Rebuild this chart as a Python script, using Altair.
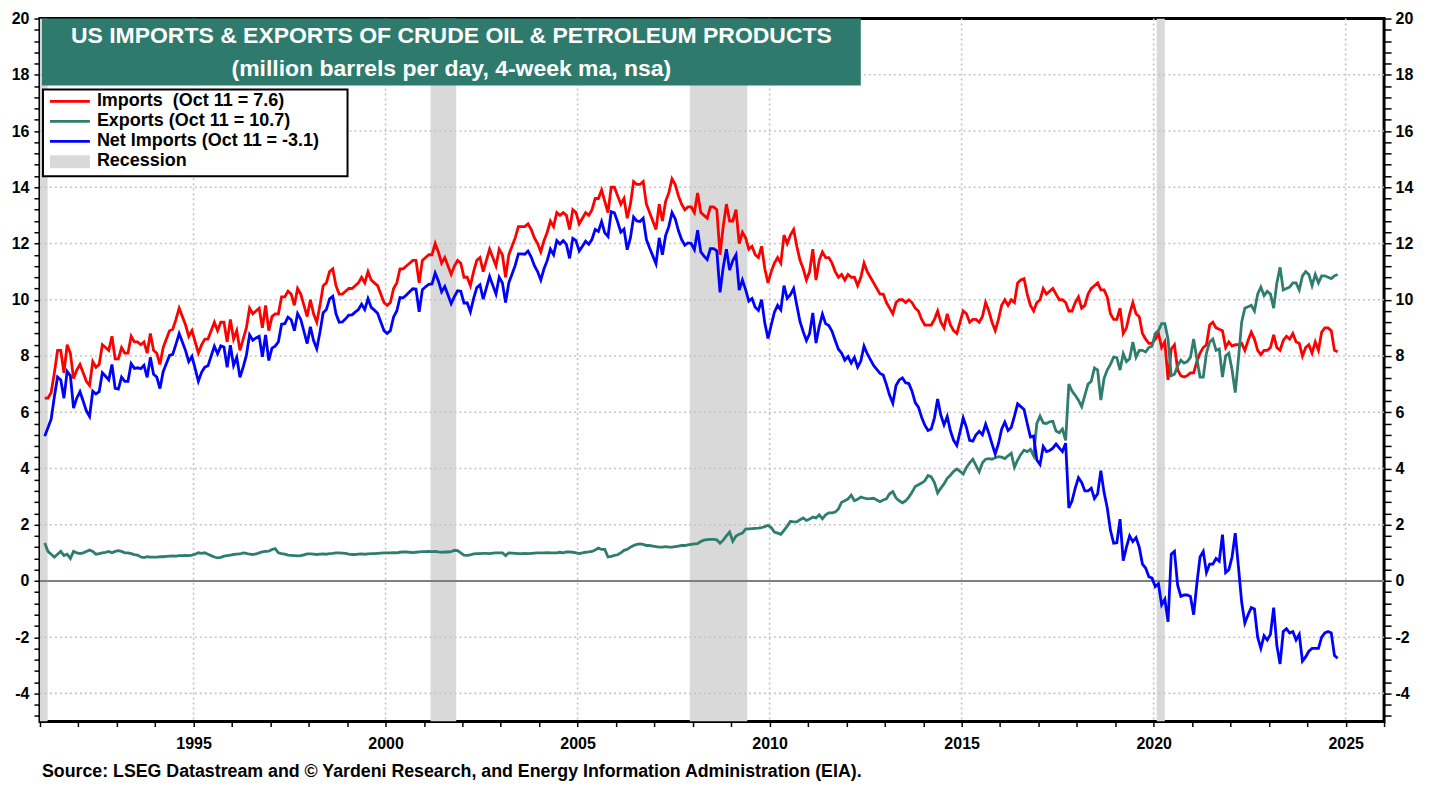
import altair as alt
import pandas as pd

# ---------------------------------------------------------------------------
# Data: million barrels per day, 4-week ma, nsa (monthly readings)
# first row of the 1990s lists starts in Feb 1991; last row of 2020s ends Oct 2024
# ---------------------------------------------------------------------------
FIRST_YEAR = 1991

imports_1990s = [
    [6.5, 6.5, 6.7, 7.4, 8.2, 8.2, 7.4, 8.4, 8.1, 7.2, 7.5],                 # 1991 (Feb-Dec)
    [7.7, 7.4, 7.1, 6.95, 7.8, 7.6, 7.7, 8.4, 8.3, 8.2, 8.7, 7.9],           # 1992
    [7.9, 8.3, 8.1, 8.1, 8.7, 8.5, 8.5, 8.4, 8.5, 8.1, 8.8, 8.2],            # 1993
    [8.1, 7.7, 8.3, 8.6, 8.9, 8.95, 9.3, 9.7, 9.4, 9.1, 8.7, 8.9],           # 1994
    [8.5, 8.1, 8.4, 8.6, 8.6, 8.9, 9.2, 8.9, 9.2, 9.2, 8.5, 9.3],            # 1995
    [8.6, 8.9, 8.2, 8.6, 9.0, 9.7, 9.5, 9.6, 9.7, 9.0, 9.8, 8.9],            # 1996
    [9.4, 9.5, 9.5, 10.1, 10.1, 10.3, 10.2, 9.8, 10.4, 10.2, 9.8, 9.4],      # 1997
    [10.0, 9.5, 9.2, 9.8, 10.5, 10.6, 11.0, 11.1, 10.5, 10.2, 10.2, 10.3],   # 1998
    [10.4, 10.4, 10.5, 10.6, 10.8, 10.6, 11.0, 10.7, 10.6, 10.5, 10.2, 9.9], # 1999
]
imports_2000s = [
    [9.8, 9.9, 10.4, 10.6, 11.1, 11.1, 11.2, 11.3, 11.4, 11.4, 10.6, 11.4],
    [11.5, 11.6, 11.6, 12.0, 11.7, 11.3, 11.5, 11.2, 10.9, 11.2, 11.4, 11.3],
    [10.8, 10.8, 10.5, 11.0, 11.4, 11.5, 11.0, 11.4, 11.8, 11.5, 11.2, 11.8],
    [11.6, 10.8, 11.6, 11.9, 12.2, 12.6, 12.6, 12.6, 12.7, 12.5, 12.2, 12.0],
    [11.7, 12.1, 12.4, 12.8, 12.6, 13.1, 13.0, 13.1, 13.0, 12.5, 13.2, 13.1],
    [12.7, 12.9, 13.1, 13.0, 13.2, 13.6, 13.6, 13.9, 13.5, 13.1, 14.0, 14.0],
    [13.7, 13.4, 13.6, 12.9, 13.4, 14.2, 14.1, 14.1, 14.2, 13.4, 13.1, 12.8],
    [12.5, 13.4, 12.8, 13.5, 13.8, 14.3, 14.1, 13.7, 13.4, 13.2, 13.3, 13.3],
    [13.1, 13.8, 13.1, 13.0, 12.9, 13.3, 13.3, 13.2, 11.6, 12.6, 13.4, 12.8],
    [12.8, 13.2, 12.0, 12.4, 12.2, 11.8, 11.9, 11.6, 11.5, 11.9, 11.1, 10.6],
]
imports_2010s = [
    [11.0, 11.3, 11.5, 11.3, 12.3, 12.0, 12.3, 12.5, 11.9, 11.4, 11.1, 10.7],
    [11.0, 11.8, 10.7, 11.4, 11.7, 11.5, 11.5, 11.3, 11.0, 10.8, 10.9, 10.7],
    [10.9, 10.8, 10.8, 10.5, 10.8, 11.3, 11.0, 10.8, 10.6, 10.4, 10.2, 10.2],
    [9.9, 9.7, 9.5, 9.9, 10.0, 10.0, 9.9, 10.0, 9.9, 9.7, 9.6, 9.3],
    [9.1, 9.1, 9.1, 9.3, 9.6, 9.2, 9.0, 9.5, 9.1, 8.9, 8.8, 9.2],
    [9.6, 9.5, 9.2, 9.3, 9.3, 9.2, 9.4, 9.9, 9.6, 9.2, 8.9, 9.3],
    [9.8, 10.0, 9.8, 10.0, 9.9, 10.6, 10.7, 10.75, 10.2, 9.8, 9.6, 9.9],
    [10.0, 10.4, 10.2, 10.3, 10.4, 10.2, 10.0, 10.0, 9.9, 9.6, 9.6, 9.9],
    [10.1, 9.7, 9.8, 10.2, 10.4, 10.5, 10.6, 10.35, 10.35, 10.1, 9.5, 9.3],
    [9.3, 9.7, 8.8, 9.0, 9.5, 9.9, 9.5, 9.4, 8.8, 8.6, 8.45, 8.45],
]
imports_2020s = [
    [8.6, 8.8, 8.3, 8.5, 7.15, 8.25, 8.4, 7.5, 7.3, 7.25, 7.3, 7.4],
    [7.4, 7.8, 8.1, 8.3, 8.4, 9.1, 9.2, 9.0, 8.95, 8.9, 8.3, 8.5],
    [8.35, 8.4, 8.4, 8.45, 8.2, 8.55, 8.85, 8.6, 8.2, 8.05, 8.2, 8.2],
    [8.3, 8.75, 8.3, 8.2, 8.55, 8.7, 8.6, 8.8, 8.5, 8.45, 8.0, 8.3],
    [8.4, 8.1, 8.5, 8.2, 8.85, 9.0, 9.0, 8.9, 8.2, 8.15],                    # 2024 (Jan-Oct)
]

exports_1990s = [
    [1.35, 1.05, 0.95, 0.85, 0.95, 1.05, 0.9, 0.95, 0.8, 1.05, 1.0],
    [0.97, 1.0, 1.05, 1.1, 1.05, 0.95, 0.97, 1.0, 1.02, 1.05, 1.0, 1.05],
    [1.08, 1.05, 1.0, 1.0, 0.97, 0.94, 0.92, 0.85, 0.83, 0.86, 0.85, 0.85],
    [0.85, 0.86, 0.86, 0.87, 0.88, 0.89, 0.88, 0.9, 0.9, 0.91, 0.9, 0.92],
    [0.95, 1.0, 0.98, 1.0, 0.95, 0.9, 0.85, 0.82, 0.84, 0.88, 0.9, 0.92],
    [0.94, 0.95, 0.96, 1.0, 0.98, 0.95, 0.94, 0.96, 1.0, 1.03, 1.05, 1.06],
    [1.12, 1.15, 1.0, 0.97, 0.95, 0.92, 0.91, 0.9, 0.89, 0.9, 0.93, 0.96],
    [0.96, 0.95, 0.94, 0.95, 0.96, 0.95, 0.97, 0.98, 1.0, 1.0, 0.99, 0.98],
    [0.95, 0.94, 0.94, 0.95, 0.96, 0.95, 0.96, 0.97, 0.97, 0.98, 0.99, 1.0],
]
exports_2000s = [
    [1.0, 1.0, 1.01, 1.0, 1.02, 1.03, 1.03, 1.02, 1.01, 1.02, 1.03, 1.04],
    [1.04, 1.05, 1.04, 1.05, 1.03, 1.02, 1.03, 1.03, 1.04, 1.09, 1.08, 1.0],
    [0.92, 0.91, 0.93, 0.96, 0.97, 0.97, 0.98, 0.98, 0.97, 0.99, 1.0, 1.0],
    [1.0, 0.9, 1.0, 0.99, 0.98, 0.97, 0.97, 0.98, 0.97, 0.98, 0.99, 1.0],
    [1.0, 1.0, 1.01, 1.0, 1.0, 1.0, 1.02, 1.0, 1.03, 1.03, 1.02, 1.0],
    [0.97, 1.0, 1.02, 1.03, 1.05, 1.1, 1.17, 1.12, 1.12, 0.85, 0.87, 0.91],
    [0.93, 1.0, 1.09, 1.12, 1.2, 1.26, 1.3, 1.32, 1.3, 1.26, 1.26, 1.24],
    [1.22, 1.2, 1.2, 1.22, 1.2, 1.2, 1.22, 1.24, 1.26, 1.26, 1.28, 1.3],
    [1.32, 1.33, 1.4, 1.45, 1.47, 1.48, 1.48, 1.46, 1.34, 1.45, 1.6, 1.74],
    [1.41, 1.6, 1.66, 1.7, 1.84, 1.85, 1.86, 1.87, 1.88, 1.9, 1.93, 1.98],
]
exports_2010s = [
    [1.9, 1.74, 1.7, 1.66, 1.8, 1.95, 2.12, 2.1, 2.1, 2.18, 2.24, 2.15],
    [2.2, 2.27, 2.24, 2.35, 2.21, 2.35, 2.42, 2.42, 2.45, 2.56, 2.8, 2.85],
    [2.92, 3.05, 2.85, 2.9, 2.98, 2.95, 2.92, 2.93, 2.94, 2.88, 2.82, 2.88],
    [2.92, 3.1, 3.18, 2.95, 2.85, 2.78, 2.85, 2.98, 3.15, 3.36, 3.42, 3.48],
    [3.56, 3.75, 3.7, 3.5, 3.13, 3.3, 3.45, 3.65, 3.76, 3.9, 3.98, 3.9],
    [3.8, 4.04, 4.2, 4.33, 4.1, 3.88, 4.2, 4.33, 4.35, 4.33, 4.38, 4.42],
    [4.4, 4.35, 4.45, 4.54, 4.04, 4.3, 4.5, 4.65, 4.6, 4.68, 4.45, 5.6],
    [5.86, 5.62, 5.6, 5.66, 5.68, 5.33, 5.27, 5.4, 5.0, 7.0, 6.75, 6.6],
    [6.43, 6.2, 6.6, 7.0, 7.1, 7.57, 7.5, 6.43, 7.2, 7.5, 7.7, 7.96],
    [7.94, 7.5, 8.08, 7.8, 7.9, 8.5, 7.96, 8.2, 8.2, 8.14, 8.3, 8.35],
]
exports_2020s = [
    [8.8, 8.9, 9.15, 9.15, 8.6, 7.3, 7.35, 7.65, 7.85, 7.75, 7.8, 7.95],
    [8.6, 7.9, 7.25, 7.25, 8.1, 8.5, 8.6, 8.2, 8.25, 7.25, 8.0, 8.1],
    [7.5, 6.7, 7.9, 9.2, 9.7, 9.75, 9.8, 9.6, 10.2, 10.45, 10.15, 10.3],
    [10.2, 9.7, 10.6, 11.15, 10.35, 10.4, 10.45, 10.6, 10.6, 10.35, 10.85, 11.0],
    [10.9, 10.5, 10.9, 10.6, 10.85, 10.85, 10.8, 10.75, 10.85, 10.9],
]

recession_start = [1990.55, 2001.17, 2007.92, 2020.08]
recession_end = [1991.2, 2001.84, 2009.42, 2020.29]

x_grid_years = [1995, 2000, 2005, 2010, 2015, 2020, 2025]
y_grid_values = [-4, -2, 2, 4, 6, 8, 10, 12, 14, 16, 18]

title_lines = [
    "US IMPORTS & EXPORTS OF CRUDE OIL & PETROLEUM PRODUCTS",
    "(million barrels per day, 4-week ma, nsa)",
]
legend_labels = [
    "Imports \u00a0(Oct 11 = 7.6)",
    "Exports (Oct 11 = 10.7)",
    "Net Imports (Oct 11 = -3.1)",
    "Recession",
]
source_text = ("Source: LSEG Datastream and \u00a9 Yardeni Research, "
               "and Energy Information Administration (EIA).")


def to_frame(decades, name):
    rows = []
    year = FIRST_YEAR
    for dec in decades:
        for row in dec:
            first_month = 13 - len(row) if year == FIRST_YEAR else 1
            for j, v in enumerate(row):
                m = first_month + j
                rows.append({"t": round(year + (m - 0.5) / 12, 4), name: v})
            year += 1
    return pd.DataFrame(rows)


df = to_frame([imports_1990s, imports_2000s, imports_2010s, imports_2020s], "imports").merge(
    to_frame([exports_1990s, exports_2000s, exports_2010s, exports_2020s], "exports"), on="t")

# ---------------------------------------------------------------------------
W, H = 1346, 704
FONT = "Arial, 'Liberation Sans', Helvetica, sans-serif"
RED, TEAL, BLUE = "#FF0000", "#2E7D6E", "#0000FF"
BOX_TEAL = "#2E7B6E"
GRAY = "#D9D9D9"
LW = 2.8

xscale = alt.Scale(domain=[1991, 2026], nice=False, zero=False)
yscale = alt.Scale(domain=[-5, 20], nice=False, zero=False)

x_ticks = list(range(1991, 2027))
y_ticks = [round(-4.8 + 0.4 * k, 1) for k in range(63)]

axis_common = dict(labelFont=FONT, labelFontSize=16, labelFontWeight="bold", labelColor="black",
                   tickColor="black", tickWidth=1.5, domain=False, grid=False, title=None,
                   labelOverlap=False, labelFlush=False)

x_axis = alt.Axis(values=x_ticks, orient="bottom",
                  labelExpr="datum.value % 5 == 0 ? '' + datum.value : ''",
                  tickSize=5, labelPadding=9, **axis_common)
y_left = alt.Axis(values=y_ticks, orient="left",
                  labelExpr="datum.value % 2 == 0 ? '' + datum.value : ''",
                  tickSize=6, labelPadding=5, **axis_common)
y_right = alt.Axis(values=y_ticks, orient="right",
                   labelExpr="datum.value % 2 == 0 ? '' + datum.value : ''",
                   tickSize=7, labelPadding=4, **axis_common)

rec = alt.Chart(pd.DataFrame({"start": recession_start, "end": recession_end})).mark_rect(
    color=GRAY, clip=True).encode(
    x=alt.X("start:Q", scale=xscale, axis=None), x2="end:Q",
    y=alt.value(0), y2=alt.value(H))

xgrid = alt.Chart(pd.DataFrame({"v": x_grid_years})).mark_rule(
    color="#C4C4C4", strokeDash=[2, 3], strokeWidth=1.6).encode(
    x=alt.X("v:Q", scale=xscale, axis=None), y=alt.value(0), y2=alt.value(H))

ygrid = alt.Chart(pd.DataFrame({"v": y_grid_values})).mark_rule(
    color="#C4C4C4", strokeDash=[2, 3], strokeWidth=1.6).encode(
    y=alt.Y("v:Q", scale=yscale, axis=None), x=alt.value(0), x2=alt.value(W))

zero = alt.Chart(pd.DataFrame({"v": [0]})).mark_rule(color="#7F7F7F", strokeWidth=2).encode(
    y=alt.Y("v:Q", scale=yscale, axis=None), x=alt.value(0), x2=alt.value(W))

base = alt.Chart(df)
imp = base.mark_line(color=RED, strokeWidth=LW).encode(
    x=alt.X("t:Q", scale=xscale, axis=x_axis),
    y=alt.Y("imports:Q", scale=yscale, axis=y_left))
exp = base.mark_line(color=TEAL, strokeWidth=LW).encode(
    x=alt.X("t:Q", scale=xscale, axis=None),
    y=alt.Y("exports:Q", scale=yscale, axis=y_right))
net = base.transform_calculate(net="datum.imports - datum.exports").mark_line(
    color=BLUE, strokeWidth=LW).encode(
    x=alt.X("t:Q", scale=xscale, axis=None),
    y=alt.Y("net:Q", scale=yscale, axis=None))

one = pd.DataFrame({"k": [0]})
title_box = alt.Chart(one).mark_rect(color=BOX_TEAL).encode(
    x=alt.value(2), x2=alt.value(822), y=alt.value(0), y2=alt.value(67))
title_layers = []
for i, line in enumerate(title_lines):
    title_layers.append(
        alt.Chart(pd.DataFrame({"text": [line]})).mark_text(
            font=FONT, fontSize=23, fontWeight="bold", color="white",
            align="center", baseline="middle").encode(
            x=alt.value(412), y=alt.value(18 + 33 * i), text="text:N"))

legend_box = alt.Chart(one).mark_rect(fill="white", stroke="black", strokeWidth=2).encode(
    x=alt.value(3), x2=alt.value(308), y=alt.value(71), y2=alt.value(158))
legend_layers = []
for i, (lab, col) in enumerate(zip(legend_labels, [RED, TEAL, BLUE, GRAY])):
    ry = 83 + 20 * i
    if i < 3:
        legend_layers.append(alt.Chart(one).mark_rule(color=col, strokeWidth=LW).encode(
            x=alt.value(10), x2=alt.value(50), y=alt.value(ry)))
    else:
        legend_layers.append(alt.Chart(one).mark_rect(color=col).encode(
            x=alt.value(10), x2=alt.value(50), y=alt.value(ry - 6), y2=alt.value(ry + 7)))
    legend_layers.append(alt.Chart(pd.DataFrame({"text": [lab]})).mark_text(
        font=FONT, fontSize=18, fontWeight="bold", color="black",
        align="left", baseline="middle").encode(
        x=alt.value(57), y=alt.value(ry), text="text:N"))

source = alt.Chart(pd.DataFrame({"text": [source_text]})).mark_text(
    font=FONT, fontSize=17.8, fontWeight="bold", color="black",
    align="left", baseline="middle").encode(
    x=alt.value(2), y=alt.value(755), text="text:N")

chart = alt.layer(
    rec, xgrid, ygrid, zero, imp, exp, net,
    title_box, *title_layers, legend_box, *legend_layers, source
).resolve_axis(
    x="independent", y="independent"
).properties(
    width=W, height=H,
    padding={"left": 32, "top": 10, "right": 46, "bottom": 64},
    autosize=alt.AutoSizeParams(type="none"),
    background="white",
).configure_view(stroke="black", strokeWidth=3)

chart.save("out.html", embed_options={"renderer": "svg", "actions": False})
